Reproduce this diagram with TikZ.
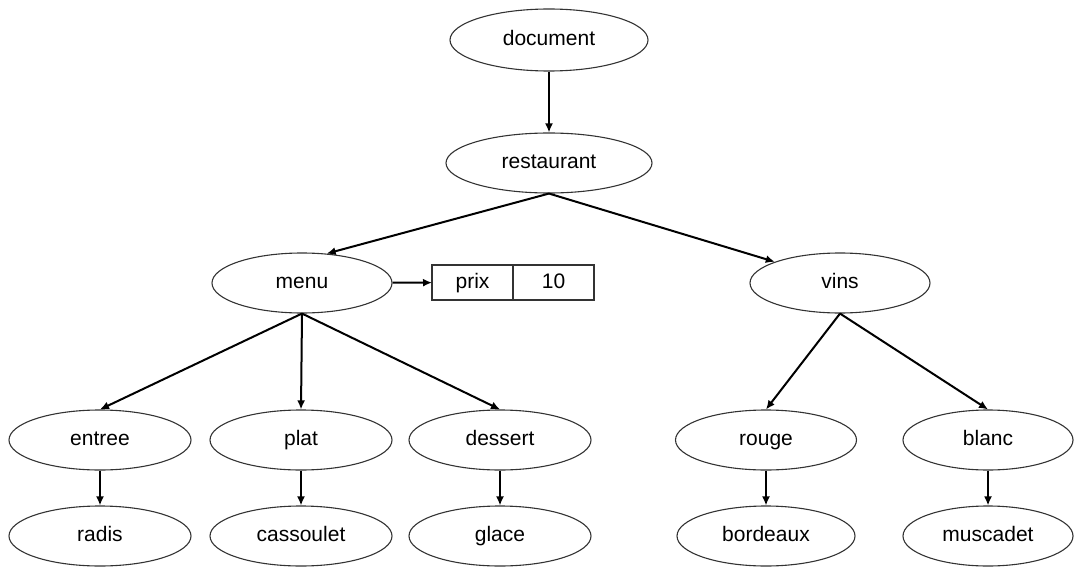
\documentclass[tikz,border=0pt]{standalone}
\usepackage{fontspec}
\setmainfont{Liberation Sans}
\usetikzlibrary{positioning, arrows.meta, shapes.geometric}
\tikzset{
  every node/.style={font=\fontsize{21}{24}\selectfont, text height=15pt, text depth=4pt},
  elt/.style={draw=black!80, ellipse, line width=1.1pt, minimum width=182pt, minimum height=60pt, inner sep=0pt},
  cell/.style={draw=black!80, rectangle, line width=1.1pt, minimum width=81pt, minimum height=35pt, inner sep=0pt, outer sep=0pt},
  arr/.style={-{Latex[length=9pt, width=8pt]}, line width=2pt},
}

\begin{document}
\begin{tikzpicture}[x=1pt, y=-1pt]
  \useasboundingbox (0,0) rectangle (1075,567);
  % root and restaurant
  \node[elt, minimum width=198pt, minimum height=62pt] (doc) at (549,40) {document};
  \node[elt, minimum width=206pt] (resto) at (549,163) {restaurant};
  % second level
  \node[elt, minimum width=180pt] (menu) at (302,283) {menu};
  \node[elt, minimum width=180pt] (vins) at (840,283) {vins};
  % attribute of menu
  \node[cell] (prix) at (472.5,282.5) {prix};
  \node[cell, right=0pt of prix] (val) {10};
  % dishes
  \node[elt] (entree)  at (100,440) {entree};
  \node[elt] (plat)    at (301,440) {plat};
  \node[elt] (dessert) at (500,440) {dessert};
  \node[elt] (radis)     at (100,536) {radis};
  \node[elt] (cassoulet) at (301,536) {cassoulet};
  \node[elt] (glace)     at (500,536) {glace};
  % wines
  \node[elt, minimum width=181pt] (rouge) at (766,440) {rouge};
  \node[elt, minimum width=170pt] (blanc) at (988,440) {blanc};
  \node[elt, minimum width=178pt] (bordeaux) at (766,536) {bordeaux};
  \node[elt, minimum width=170pt] (muscadet) at (988,536) {muscadet};
  % edges
  \draw[arr] (doc) -- (resto);
  \draw[arr] (resto.south) -- (menu.50);
  \draw[arr] (resto.south) -- (vins.162);
  \draw[arr] (menu) -- (prix);
  \foreach \c in {entree, plat, dessert}
    \draw[arr] (menu.south) -- (\c.north);
  \foreach \c in {rouge, blanc}
    \draw[arr] (vins.south) -- (\c.north);
  \draw[arr] (entree) -- (radis);
  \draw[arr] (plat) -- (cassoulet);
  \draw[arr] (dessert) -- (glace);
  \draw[arr] (rouge) -- (bordeaux);
  \draw[arr] (blanc) -- (muscadet);
\end{tikzpicture}
\end{document}
